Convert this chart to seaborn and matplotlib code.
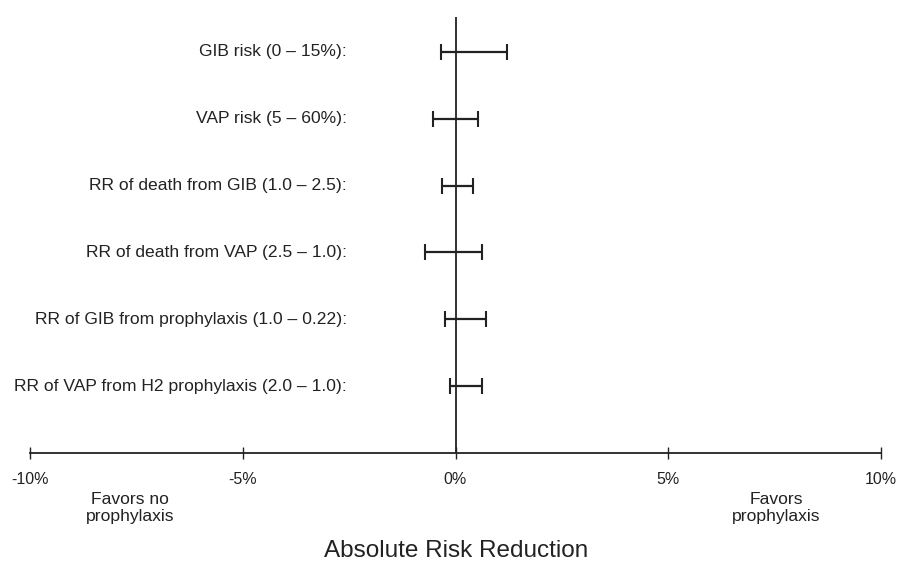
import numpy as np
import pandas as pd
import seaborn as sns
import matplotlib
matplotlib.use("Agg")
from matplotlib import pyplot as plt

sns.set_style("ticks")
plt.rcParams['font.family'] = ['Liberation Sans', 'DejaVu Sans']

# one-way sensitivity ranges of the absolute risk reduction (%)
labels = ["GIB risk (0 \u2013 15%):",
          "VAP risk (5 \u2013 60%):",
          "RR of death from GIB (1.0 \u2013 2.5):",
          "RR of death from VAP (2.5 \u2013 1.0):",
          "RR of GIB from prophylaxis (1.0 \u2013 0.22):",
          "RR of VAP from H2 prophylaxis (2.0 \u2013 1.0):"]
low = [-0.33, -0.53, -0.32, -0.71, -0.24, -0.13]
high = [1.21, 0.52, 0.42, 0.63, 0.72, 0.63]
xticks = [-10, -5, 0, 5, 10]
xticklabels = ["-10%", "-5%", "0%", "5%", "10%"]

df = pd.DataFrame({"label": labels, "row": range(len(labels)), "low": low, "high": high})
long = df.melt(id_vars=["label", "row"], value_vars=["low", "high"], value_name="arr")

ink = "#222222"
fig = plt.figure(figsize=(8.98, 5.62), dpi=100)
ax = fig.add_axes([30 / 898, 1 - 453 / 562, 851 / 898, 436 / 562])

sns.lineplot(data=long, x="arr", y="row", units="label", estimator=None,
             color=ink, lw=1.6, sort=False, ax=ax, legend=False)
sns.scatterplot(data=long, x="arr", y="row", marker="|", s=140, linewidth=1.5,
                color=ink, ax=ax, legend=False)
ax.axvline(0, color=ink, lw=1.3, zorder=0)

for i, lab in enumerate(labels):
    ax.text(-2.55, i, lab, ha="right", va="center", fontsize=12.6, color=ink)

ax.set_xlim(-10, 10)
ax.set_ylim(6.0, -0.52)
ax.set_xticks(xticks)
ax.set_xticklabels(xticklabels, fontsize=11.5, color=ink)
ax.tick_params(axis="x", direction="inout", length=9, width=1, color=ink, pad=9)
ax.set_yticks([])
ax.set_xlabel("")
ax.set_ylabel("")
sns.despine(ax=ax, left=True)
ax.spines["bottom"].set_color(ink)
ax.spines["bottom"].set_linewidth(1.3)

fig.text(130 / 898, 1 - 508 / 562, "Favors no\nprophylaxis", ha="center", va="center",
         fontsize=12.6, color=ink, linespacing=1.1)
fig.text(776 / 898, 1 - 508 / 562, "Favors\nprophylaxis", ha="center", va="center",
         fontsize=12.6, color=ink, linespacing=1.1)
fig.text(456 / 898, 1 - 551 / 562, "Absolute Risk Reduction", ha="center", va="center",
         fontsize=17.5, color=ink)

fig.savefig("out.png", dpi=100)
